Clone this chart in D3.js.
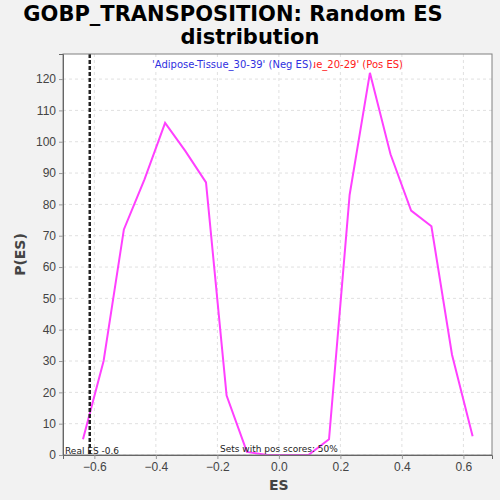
<!DOCTYPE html>
<html>
<head>
<meta charset="utf-8">
<script src="https://cdn.jsdelivr.net/npm/d3@7"></script>
<style>
  body { margin: 0; background: #f2f2f2; }
  svg { display: block; font-family: "DejaVu Sans", sans-serif; }
</style>
</head>
<body>
<div id="chart"></div>
<script>
'use strict';

// ES bins and their counts
const esValues = [-0.637, -0.570, -0.504, -0.437, -0.370, -0.304, -0.237, -0.170, -0.104, -0.037,
  0.030, 0.096, 0.163, 0.230, 0.296, 0.363, 0.430, 0.496, 0.563, 0.630];
const counts = [5, 30, 72, 88, 106, 97, 87, 19, 1, 0, 0, 0, 5, 83, 122, 96, 78, 73, 32, 6];
const xTicks = [-0.6, -0.4, -0.2, 0.0, 0.2, 0.4, 0.6];
const yTicks = [0, 10, 20, 30, 40, 50, 60, 70, 80, 90, 100, 110, 120];
const realES = -0.615;

const width = 500, height = 500;
const margin = { top: 54, right: 8, bottom: 45, left: 63 };
const plotW = width - margin.left - margin.right;
const plotH = height - margin.top - margin.bottom;

const svg = d3.select('#chart').append('svg')
  .attr('width', width)
  .attr('height', height);

svg.append('text')
  .attr('x', 233).attr('y', 21)
  .attr('text-anchor', 'middle')
  .style('font-size', '21px').style('font-weight', 'bold').attr('fill', '#000')
  .text('GOBP_TRANSPOSITION: Random ES');
svg.append('text')
  .attr('x', 250).attr('y', 44)
  .attr('text-anchor', 'middle')
  .style('font-size', '21px').style('font-weight', 'bold').attr('fill', '#000')
  .text('distribution');

const plot = svg.append('g')
  .attr('transform', `translate(${margin.left},${margin.top})`);

const x = d3.scaleLinear().domain([-0.702, 0.693]).range([0, plotW]);
const y = d3.scaleLinear().domain([0, 128]).range([plotH, 0]);

plot.append('rect')
  .attr('width', plotW).attr('height', plotH)
  .attr('fill', '#fff');

// grid
plot.append('g').selectAll('line').data(xTicks).join('line')
  .attr('x1', d => x(d)).attr('x2', d => x(d))
  .attr('y1', 0).attr('y2', plotH)
  .attr('stroke', '#e0e0e0').attr('stroke-dasharray', '3,3');
plot.append('g').selectAll('line').data(yTicks).join('line')
  .attr('x1', 0).attr('x2', plotW)
  .attr('y1', d => y(d)).attr('y2', d => y(d))
  .attr('stroke', '#e0e0e0').attr('stroke-dasharray', '3,3');

// legend labels (red one is partly hidden behind the blue one, as in the original)
plot.append('text')
  .attr('x', 340).attr('y', 14)
  .attr('text-anchor', 'end')
  .style('font-size', '10px').attr('fill', '#ff2020')
  .text("'Adipose-Tissue_20-29' (Pos ES)");
const neg = plot.append('text')
  .attr('x', 89).attr('y', 14)
  .style('font-size', '10px').attr('fill', '#3030e0')
  .text("'Adipose-Tissue_30-39' (Neg ES)");
const bb = neg.node().getBBox();
plot.insert('rect', 'text:last-of-type')
  .attr('x', bb.x).attr('y', bb.y)
  .attr('width', bb.width + 1).attr('height', bb.height)
  .attr('fill', '#fff');

// distribution line
const line = d3.line()
  .x((d, i) => x(esValues[i]))
  .y(d => y(d));
plot.append('path')
  .datum(counts)
  .attr('d', line)
  .attr('fill', 'none')
  .attr('stroke', '#ff40ff')
  .attr('stroke-width', 2);

// real ES marker
plot.append('line')
  .attr('x1', x(realES)).attr('x2', x(realES))
  .attr('y1', 0).attr('y2', plotH)
  .attr('stroke', '#222').attr('stroke-width', 2.5)
  .attr('stroke-dasharray', '4,2');

plot.append('text')
  .attr('x', 2).attr('y', plotH - 1)
  .style('font-size', '9px').attr('fill', '#222')
  .text('Real ES -0.6');
plot.append('text')
  .attr('x', x(0)).attr('y', plotH - 3)
  .attr('text-anchor', 'middle')
  .style('font-size', '9px').attr('fill', '#222')
  .text('Sets with pos scores: 50%');

plot.append('rect')
  .attr('width', plotW).attr('height', plotH)
  .attr('fill', 'none').attr('stroke', '#808080');

// axes
const xAxis = plot.append('g')
  .attr('transform', `translate(0,${plotH})`)
  .call(d3.axisBottom(x).tickValues(xTicks).tickFormat(d3.format('.1f')).tickSize(4));
const yAxis = plot.append('g')
  .call(d3.axisLeft(y).tickValues(yTicks).tickSize(4));
[xAxis, yAxis].forEach(a => {
  a.select('.domain').attr('stroke', '#666');
  a.selectAll('.tick line').attr('stroke', '#999');
  a.selectAll('.tick text').attr('fill', '#444').style('font-size', '12px');
});

svg.append('text')
  .attr('x', margin.left + x(0)).attr('y', 490)
  .attr('text-anchor', 'middle')
  .style('font-size', '14px').style('font-weight', 'bold').attr('fill', '#444')
  .text('ES');
svg.append('text')
  .attr('transform', `translate(25,${margin.top + plotH / 2}) rotate(-90)`)
  .attr('text-anchor', 'middle')
  .style('font-size', '14px').style('font-weight', 'bold').attr('fill', '#444')
  .text('P(ES)');
</script>
</body>
</html>
